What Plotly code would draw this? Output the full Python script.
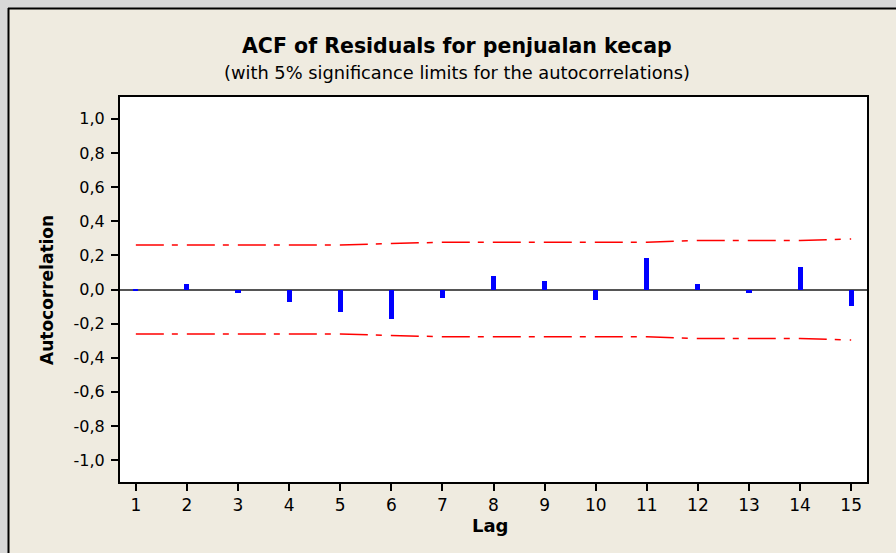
import plotly.graph_objects as go

lags = list(range(1, 16))
acf = [-0.01, 0.03, -0.02, -0.072, -0.133, -0.17, -0.05, 0.078, 0.047, -0.064,
       0.187, 0.035, -0.02, 0.129, -0.097]
upper = [0.261, 0.261, 0.261, 0.261, 0.261, 0.269, 0.277, 0.277, 0.277, 0.277,
         0.277, 0.287, 0.287, 0.287, 0.296]
lower = [-u for u in upper]

ytick_vals = [-1.0, -0.8, -0.6, -0.4, -0.2, 0.0, 0.2, 0.4, 0.6, 0.8, 1.0]
ytick_text = ["-1,0", "-0,8", "-0,6", "-0,4", "-0,2", "0,0", "0,2", "0,4", "0,6", "0,8", "1,0"]

title = "ACF of Residuals for penjualan kecap"
subtitle = "(with 5% significance limits for the autocorrelations)"

FONT = "DejaVu Sans"
BEIGE = "#EFEBE0"
GREY = "#D8D8D8"

fig = go.Figure()
fig.add_trace(go.Bar(x=lags, y=acf, width=0.1, marker=dict(color="#0000FF", line=dict(width=0)),
                     showlegend=False))
dash = "28px,8px,6px,9px"
fig.add_trace(go.Scatter(x=lags, y=upper, mode="lines", line=dict(color="#FF0000", width=1.5, dash=dash),
                         showlegend=False))
fig.add_trace(go.Scatter(x=lags, y=lower, mode="lines", line=dict(color="#FF0000", width=1.5, dash=dash),
                         showlegend=False))

W, H = 896, 553
ml, mr, mt, mb = 120, 29, 97, 71
pw, ph = W - ml - mr, H - mt - mb

def px2x(px):
    return (px - ml) / pw

def py2y(py):
    return (H - mb - py) / ph

shapes = [
    dict(type="rect", xref="paper", yref="paper", x0=px2x(-5), x1=px2x(W + 5), y0=py2y(8), y1=py2y(-5),
         fillcolor=GREY, line=dict(width=0), layer="below"),
    dict(type="rect", xref="paper", yref="paper", x0=px2x(-5), x1=px2x(8), y0=py2y(H + 5), y1=py2y(-5),
         fillcolor=GREY, line=dict(width=0), layer="below"),
    dict(type="line", xref="paper", yref="paper", x0=px2x(8), x1=px2x(W + 5), y0=py2y(8.5), y1=py2y(8.5),
         line=dict(color="black", width=2), layer="below"),
    dict(type="line", xref="paper", yref="paper", x0=px2x(8.5), x1=px2x(8.5), y0=py2y(8), y1=py2y(H + 5),
         line=dict(color="black", width=2), layer="below"),
]

annotations = [
    dict(text="<b>" + title + "</b>", xref="paper", yref="paper", x=px2x(457), y=py2y(46),
         showarrow=False, font=dict(family=FONT, size=20.5, color="black"), xanchor="center", yanchor="middle"),
    dict(text=subtitle, xref="paper", yref="paper", x=px2x(457), y=py2y(72),
         showarrow=False, font=dict(family=FONT, size=17.8, color="black"), xanchor="center", yanchor="middle"),
    dict(text="<b>Autocorrelation</b>", xref="paper", yref="paper", x=px2x(47), y=py2y(290),
         showarrow=False, textangle=-90, font=dict(family=FONT, size=17, color="black"),
         xanchor="center", yanchor="middle"),
    dict(text="<b>Lag</b>", xref="paper", yref="paper", x=px2x(490), y=py2y(525),
         showarrow=False, font=dict(family=FONT, size=18, color="black"), xanchor="center", yanchor="middle"),
]

fig.update_layout(
    width=W, height=H,
    margin=dict(l=ml, r=mr, t=mt, b=mb, pad=0),
    paper_bgcolor=BEIGE, plot_bgcolor="white",
    shapes=shapes, annotations=annotations,
    font=dict(family=FONT, size=15, color="black"),
    bargap=0,
)
fig.update_xaxes(range=[0.69, 15.31], tickvals=lags, ticktext=[str(l) for l in lags],
                 showgrid=False, zeroline=False, showline=True, mirror=True, linecolor="black", linewidth=2,
                 ticks="outside", ticklen=7, tickwidth=1.5, tickcolor="black",
                 tickfont=dict(family=FONT, size=17))
fig.update_yaxes(range=[-1.128, 1.128], tickvals=ytick_vals, ticktext=ytick_text,
                 showgrid=False, zeroline=True, zerolinecolor="#555555", zerolinewidth=1.5,
                 showline=True, mirror=True, linecolor="black", linewidth=2,
                 ticks="outside", ticklen=7, tickwidth=1.5, tickcolor="black",
                 ticklabelstandoff=3,
                 tickfont=dict(family=FONT, size=16))

fig.write_html("out.html")
